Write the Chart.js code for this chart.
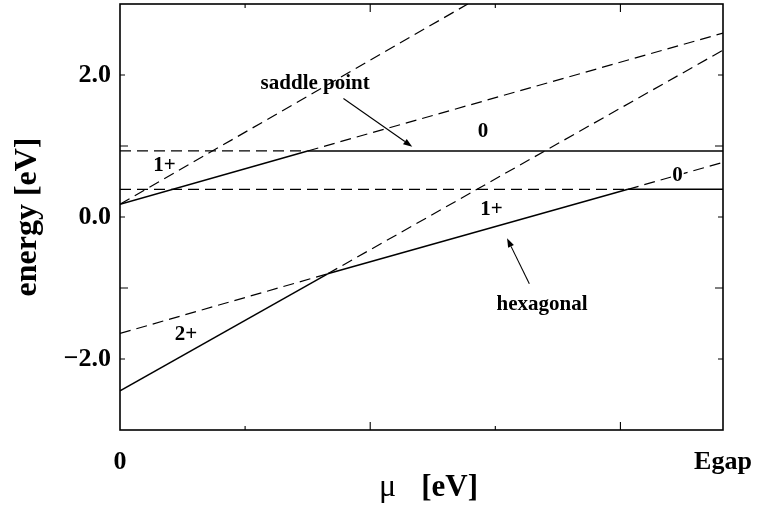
<!DOCTYPE html>
<html>
<head>
<meta charset="utf-8">
<script src="https://cdn.jsdelivr.net/npm/chart.js@4/dist/chart.umd.min.js"></script>
<style>
  html, body { margin: 0; padding: 0; background: #fff; }
  #wrap { width: 767px; height: 506px; }
</style>
</head>
<body>
<div id="wrap"><canvas id="c"></canvas></div>
<script>
// Chemical potential runs from the valence band edge (0) to the gap (Egap), in eV
const EGAP = 2.41;
const xTickValues = [0, EGAP];
const xTickLabels = ['0', 'Egap'];
const yTickValues = [-2, 0, 2];
const yTickLabels = ['\u22122.0', '0.0', '2.0'];

// Formation energies of each charge state; "ground" marks the segments that are
// the lowest-energy state (drawn solid), the rest are drawn dashed.
const saddle0X = [0, 0.75, 2.41];
const saddle0Y = [0.93, 0.93, 0.93];
const saddle0Ground = [false, true];

const saddle1X = [0, 0.75, 2.41];
const saddle1Y = [0.18, 0.93, 2.59];
const saddle1Ground = [true, false];

const saddle2X = [0, 1.39];
const saddle2Y = [0.18, 3.0];
const saddle2Ground = [false];

const hex0X = [0, 2.03, 2.41];
const hex0Y = [0.39, 0.39, 0.39];
const hex0Ground = [false, true];

const hex1X = [0, 0.83, 2.03, 2.41];
const hex1Y = [-1.64, -0.80, 0.39, 0.77];
const hex1Ground = [false, true, false];

const hex2X = [0, 0.83, 2.41];
const hex2Y = [-2.45, -0.80, 2.35];
const hex2Ground = [true, false];

// Text annotations placed in data coordinates
const labelText = ['saddle point', '0', '1+', '0', '1+', 'hexagonal', '2+'];
const labelX = [0.78, 1.451, 0.178, 2.228, 1.485, 1.687, 0.264];
const labelY = [1.88, 1.21, 0.73, 0.59, 0.11, -1.24, -1.66];

// Arrows: tail -> head, in data coordinates
const arrowFromX = [0.893, 1.636];
const arrowFromY = [1.67, -0.94];
const arrowToX = [1.168, 1.547];
const arrowToY = [0.99, -0.30];

const SERIF = '"Liberation Serif", "Times New Roman", Times, serif';

function makeSet(xs, ys, ground) {
  return {
    data: xs.map((x, i) => ({ x: x, y: ys[i] })),
    showLine: true,
    borderColor: '#000',
    backgroundColor: '#000',
    pointRadius: 0,
    pointHoverRadius: 0,
    borderWidth: 1.3,
    tension: 0,
    segment: {
      borderDash: ctx => ground[ctx.p0DataIndex] ? [] : [11, 6],
      borderWidth: ctx => ground[ctx.p0DataIndex] ? 1.5 : 1.2
    }
  };
}

const frameAndNotes = {
  id: 'frameAndNotes',
  afterDraw(chart) {
    const { ctx, chartArea: a, scales: { x, y } } = chart;
    ctx.save();
    ctx.strokeStyle = '#000';
    ctx.lineWidth = 1.6;
    ctx.strokeRect(a.left, a.top, a.right - a.left, a.bottom - a.top);

    // inward tick marks on all four sides
    ctx.lineWidth = 1.1;
    [0.5, 1.0, 1.5, 2.0].forEach(v => {
      const px = x.getPixelForValue(v);
      const len = (v % 1 === 0) ? 8 : 4;
      ctx.beginPath();
      ctx.moveTo(px, a.bottom); ctx.lineTo(px, a.bottom - len);
      ctx.moveTo(px, a.top); ctx.lineTo(px, a.top + len);
      ctx.stroke();
    });
    [-2, -1, 0, 1, 2].forEach(v => {
      const py = y.getPixelForValue(v);
      const len = (Math.abs(v) % 2 === 1) ? 8 : 5;
      ctx.beginPath();
      ctx.moveTo(a.left, py); ctx.lineTo(a.left + len, py);
      ctx.moveTo(a.right, py); ctx.lineTo(a.right - len, py);
      ctx.stroke();
    });

    // annotations
    ctx.font = 'bold 21px ' + SERIF;
    ctx.textAlign = 'center';
    ctx.textBaseline = 'middle';
    ctx.fillStyle = '#000';
    labelText.forEach((t, i) => {
      const px = x.getPixelForValue(labelX[i]);
      const py = y.getPixelForValue(labelY[i]);
      if (i === 3) {
        const w = ctx.measureText(t).width;
        ctx.fillStyle = '#fff';
        ctx.fillRect(px - w / 2 - 1, py - 8, w + 2, 16);
        ctx.fillStyle = '#000';
      }
      ctx.fillText(t, px, py);
    });

    // arrows
    ctx.lineWidth = 1.1;
    arrowFromX.forEach((fx, i) => {
      const x0 = x.getPixelForValue(fx), y0 = y.getPixelForValue(arrowFromY[i]);
      const x1 = x.getPixelForValue(arrowToX[i]), y1 = y.getPixelForValue(arrowToY[i]);
      const ang = Math.atan2(y1 - y0, x1 - x0);
      const hl = 9, hw = 3.2;
      ctx.beginPath();
      ctx.moveTo(x0, y0);
      ctx.lineTo(x1 - hl * Math.cos(ang), y1 - hl * Math.sin(ang));
      ctx.stroke();
      ctx.beginPath();
      ctx.moveTo(x1, y1);
      ctx.lineTo(x1 - hl * Math.cos(ang) + hw * Math.sin(ang), y1 - hl * Math.sin(ang) - hw * Math.cos(ang));
      ctx.lineTo(x1 - hl * Math.cos(ang) - hw * Math.sin(ang), y1 - hl * Math.sin(ang) + hw * Math.cos(ang));
      ctx.closePath();
      ctx.fill();
    });

    // x-axis title: regular Greek mu followed by the bold unit
    const cx = (a.left + a.right) / 2 + 7;
    const base = chart.height - 10;
    ctx.textBaseline = 'alphabetic';
    ctx.textAlign = 'left';
    ctx.font = '32px ' + SERIF;
    const wMu = ctx.measureText('\u03bc').width;
    ctx.font = 'bold 31px ' + SERIF;
    const wUnit = ctx.measureText('[eV]').width;
    const gap = 25;
    const start = cx - (wMu + gap + wUnit) / 2;
    ctx.font = '32px ' + SERIF;
    ctx.fillText('\u03bc', start, base);
    ctx.font = 'bold 31px ' + SERIF;
    ctx.fillText('[eV]', start + wMu + gap, base);
    ctx.restore();
  }
};

new Chart(document.getElementById('c'), {
  type: 'scatter',
  data: {
    datasets: [
      makeSet(saddle0X, saddle0Y, saddle0Ground),
      makeSet(saddle1X, saddle1Y, saddle1Ground),
      makeSet(saddle2X, saddle2Y, saddle2Ground),
      makeSet(hex0X, hex0Y, hex0Ground),
      makeSet(hex1X, hex1Y, hex1Ground),
      makeSet(hex2X, hex2Y, hex2Ground)
    ]
  },
  options: {
    responsive: true,
    maintainAspectRatio: false,
    animation: false,
    events: [],
    layout: { padding: { top: 4, right: 44, left: 0, bottom: 0 } },
    plugins: { legend: { display: false }, tooltip: { enabled: false } },
    scales: {
      x: {
        type: 'linear',
        min: 0,
        max: EGAP,
        grid: { display: false, drawTicks: false },
        border: { display: false },
        afterBuildTicks: s => { s.ticks = xTickValues.map(v => ({ value: v })); },
        afterFit: s => { s.height = 76; s.paddingLeft = 0; s.paddingRight = 0; },
        ticks: {
          autoSkip: false,
          maxRotation: 0,
          padding: 17,
          color: '#000',
          font: { family: SERIF, size: 26, weight: 'bold' },
          callback: (v, i) => xTickLabels[i]
        },
        title: { display: false }
      },
      y: {
        type: 'linear',
        min: -3,
        max: 3,
        grid: { display: false, drawTicks: false },
        border: { display: false },
        afterBuildTicks: s => { s.ticks = yTickValues.map(v => ({ value: v })); },
        afterFit: s => { s.width = 120; s.paddingTop = 0; s.paddingBottom = 0; },
        ticks: {
          autoSkip: false,
          padding: 9,
          color: '#000',
          font: { family: SERIF, size: 26, weight: 'bold' },
          callback: (v, i) => yTickLabels[i]
        },
        title: {
          display: true,
          text: 'energy [eV]',
          color: '#000',
          font: { family: SERIF, size: 32, weight: 'bold' },
          padding: { top: 9, bottom: 0 }
        }
      }
    }
  },
  plugins: [frameAndNotes]
});
</script>
</body>
</html>
